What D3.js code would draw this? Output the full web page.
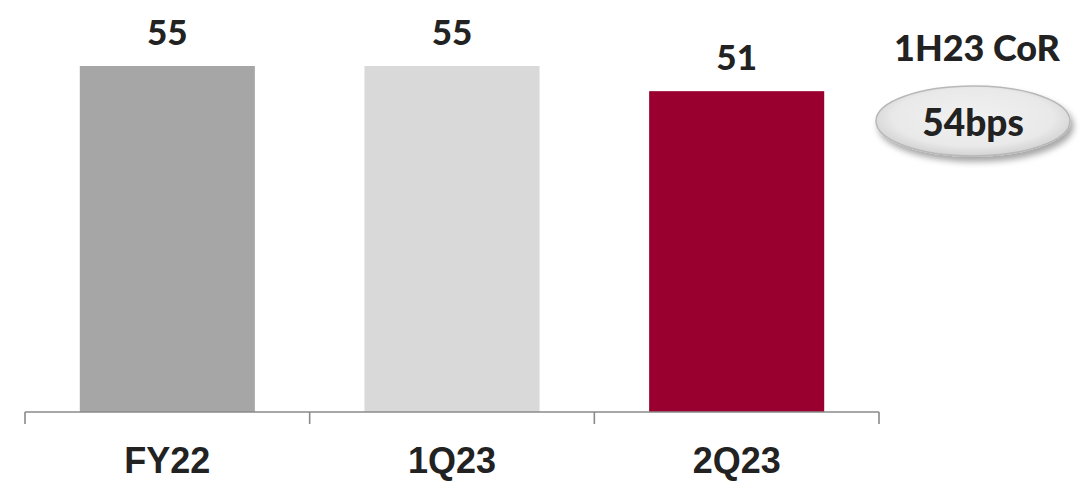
<!DOCTYPE html>
<html>
<head>
<meta charset="utf-8">
<script src="https://cdn.jsdelivr.net/npm/d3@7"></script>
<style>
  html, body { margin: 0; padding: 0; background: #fff; }
  svg { display: block; }
</style>
</head>
<body>
<svg id="chart" width="1086" height="481"></svg>
<script>
// Cost of risk by period (bps)
const categories = ["FY22", "1Q23", "2Q23"];
const values = [55, 55, 51];
const barColors = ["#a6a6a6", "#d9d9d9", "#990030"];
const summaryTitle = "1H23 CoR";
const summaryValue = "54bps";

const svg = d3.select("#chart");
const baseline = 412;

const x = d3.scaleBand()
  .domain(categories)
  .range([25, 879])
  .paddingInner(0.385)
  .paddingOuter(0.1925);

// same bands with no padding: their edges carry the axis ticks
const xEdges = d3.scaleBand().domain(categories).range([25, 879]).padding(0);

const y = d3.scaleLinear()
  .domain([0, 55])
  .range([baseline, 66]);

const heavy = "Lato, 'Open Sans', sans-serif";

// bars
svg.append("g")
  .selectAll("rect")
  .data(categories)
  .join("rect")
  .attr("x", d => x(d))
  .attr("width", x.bandwidth())
  .attr("y", (d, i) => y(values[i]))
  .attr("height", (d, i) => baseline - y(values[i]))
  .attr("fill", (d, i) => barColors[i]);

// value labels
svg.append("g")
  .selectAll("text")
  .data(categories)
  .join("text")
  .attr("x", d => x(d) + x.bandwidth() / 2)
  .attr("y", (d, i) => y(values[i]) - 21)
  .attr("text-anchor", "middle")
  .attr("font-family", heavy)
  .attr("font-weight", 900)
  .attr("font-size", 35)
  .attr("fill", "#222")
  .text((d, i) => values[i]);

// axis line with tick marks at band edges
const axis = svg.append("g").attr("stroke", "#8a8a8a").attr("stroke-width", 1.6).attr("fill", "none");
axis.append("line")
  .attr("x1", xEdges.range()[0]).attr("x2", xEdges.range()[1])
  .attr("y1", baseline).attr("y2", baseline);
const edges = categories.map(c => xEdges(c)).concat([xEdges.range()[1]]);
axis.selectAll("line.tick")
  .data(edges)
  .join("line")
  .attr("class", "tick")
  .attr("x1", d => d).attr("x2", d => d)
  .attr("y1", baseline).attr("y2", baseline + 12);

// category labels
svg.append("g")
  .selectAll("text")
  .data(categories)
  .join("text")
  .attr("x", d => x(d) + x.bandwidth() / 2)
  .attr("y", 473)
  .attr("text-anchor", "middle")
  .attr("font-family", "'Liberation Sans', Arial, sans-serif")
  .attr("font-weight", 700)
  .attr("font-size", 36)
  .attr("fill", "#222")
  .text(d => d);

// summary callout
const defs = svg.append("defs");
const grad = defs.append("radialGradient")
  .attr("id", "pill")
  .attr("cx", "50%").attr("cy", "45%").attr("r", "55%");
grad.append("stop").attr("offset", "0%").attr("stop-color", "#f1f1f1");
grad.append("stop").attr("offset", "75%").attr("stop-color", "#e9e9e9");
grad.append("stop").attr("offset", "100%").attr("stop-color", "#d2d2d2");

const shadow = defs.append("filter")
  .attr("id", "shadow")
  .attr("x", "-20%").attr("y", "-30%").attr("width", "140%").attr("height", "170%");
shadow.append("feDropShadow")
  .attr("dx", 3).attr("dy", 5).attr("stdDeviation", 3)
  .attr("flood-color", "#000").attr("flood-opacity", 0.35);

svg.append("text")
  .attr("x", 977).attr("y", 61)
  .attr("text-anchor", "middle")
  .attr("font-family", heavy)
  .attr("font-weight", 900)
  .attr("font-size", 36)
  .attr("fill", "#222")
  .text(summaryTitle);

svg.append("ellipse")
  .attr("cx", 973).attr("cy", 121)
  .attr("rx", 97).attr("ry", 35)
  .attr("fill", "url(#pill)")
  .attr("stroke", "#b8b8b8")
  .attr("stroke-width", 1.5)
  .attr("filter", "url(#shadow)");

svg.append("text")
  .attr("x", 973).attr("y", 136)
  .attr("text-anchor", "middle")
  .attr("font-family", heavy)
  .attr("font-weight", 900)
  .attr("font-size", 37)
  .attr("fill", "#222")
  .text(summaryValue);
</script>
</body>
</html>
